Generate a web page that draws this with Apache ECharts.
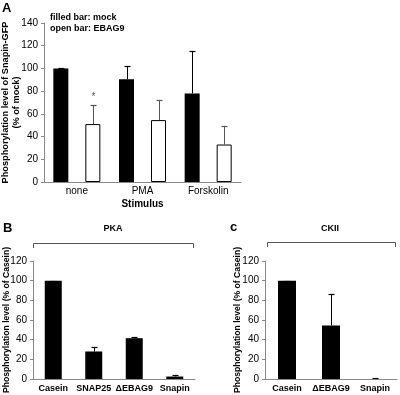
<!DOCTYPE html>
<html>
<head>
<meta charset="utf-8">
<script src="https://cdn.jsdelivr.net/npm/echarts@6/dist/echarts.min.js"></script>
<style>
  * { margin: 0; padding: 0; }
  #chart { width: 400px; height: 395px; background: #fff; }
</style>
</head>
<body>
<div id="chart"></div>
<script>
// panel A: Snapin-GFP phosphorylation per stimulus
const stimuli = ["none", "PMA", "Forskolin"];
const mockValues = [100, 90.5, 78];
const mockErrTop = [100, 102.5, 115.5];
const ebag9Values = [51, 54.5, 33];
const ebag9ErrTop = [67.5, 72, 49.5];
const ebag9Marks = ["*", "", ""];
const ticksA = [0, 20, 40, 60, 80, 100, 120, 140];

// panel B: PKA
const pkaSubstrates = ["Casein", "SNAP25", "\u0394EBAG9", "Snapin"];
const pkaValues = [100, 28, 41.5, 2.5];
const pkaErrTop = [100, 32.5, 43, 3.8];

// panel C: CKII
const ckiiSubstrates = ["Casein", "\u0394EBAG9", "Snapin"];
const ckiiValues = [100, 54.5, 0];
const ckiiErrTop = [100, 86, 0.6];
const ticksBC = [0, 20, 40, 60, 80, 100, 120];

const FONT = "Liberation Sans";
const myChart = echarts.init(document.getElementById("chart"), null, { renderer: "canvas" });

const barW = 15;
const barGapPx = 17;
const half = (barW + barGapPx) / 2;

function errorBars(offset, color, marks) {
  return function (params, api) {
    const base = api.coord([api.value(0), api.value(1)]);
    const top = api.coord([api.value(0), api.value(2)]);
    const cx = Math.round(base[0] + offset) + 0.5;
    const ty = Math.round(top[1]) + 0.5;
    const children = [];
    if (api.value(2) > api.value(1)) {
      children.push({ type: "line", shape: { x1: cx, y1: base[1], x2: cx, y2: ty }, style: { stroke: color, lineWidth: 1 } });
    }
    children.push({ type: "line", shape: { x1: cx - 3, y1: ty, x2: cx + 3, y2: ty }, style: { stroke: color, lineWidth: 1.2 } });
    const m = marks ? marks[params.dataIndex] : "";
    if (m) {
      children.push({ type: "text", x: cx, y: ty - 8, style: { text: m, fill: "#555", font: "10px " + FONT, align: "center", verticalAlign: "middle" } });
    }
    return { type: "group", children: children };
  };
}

function errData(vals, tops) {
  return vals.map((v, i) => [i, v, tops[i]]);
}

const yAxisBase = {
  type: "value",
  axisLine: { show: true, lineStyle: { color: "#888" } },
  axisTick: { show: true, length: 3, lineStyle: { color: "#888" } },
  splitLine: { show: false },
  axisLabel: { color: "#000", fontSize: 10, margin: 6, fontFamily: FONT },
  nameLocation: "middle",
  nameMoveOverlap: false,
  nameTextStyle: { color: "#000", fontWeight: "bold", fontSize: 9.2, fontFamily: FONT, lineHeight: 11 },
};
const xAxisBase = {
  type: "category",
  axisLine: { lineStyle: { color: "#888" } },
  axisTick: { show: false },
};

const option = {
  animation: false,
  textStyle: { fontFamily: FONT },
  grid: [
    { left: 44, right: 159, top: 23, bottom: 213, containLabel: false, outerBoundsMode: "none" },
    { left: 33, right: 205, top: 261, bottom: 16, containLabel: false, outerBoundsMode: "none" },
    { left: 265, right: 3, top: 261, bottom: 16, containLabel: false, outerBoundsMode: "none" },
  ],
  xAxis: [
    Object.assign({}, xAxisBase, {
      gridIndex: 0, data: stimuli,
      axisLabel: { color: "#000", fontSize: 10, margin: 4 },
      name: "Stimulus", nameLocation: "middle", nameGap: 17, nameMoveOverlap: false,
      nameTextStyle: { color: "#000", fontWeight: "bold", fontSize: 10 },
    }),
    Object.assign({}, xAxisBase, {
      gridIndex: 1, data: pkaSubstrates,
      axisLabel: { color: "#000", fontSize: 9, fontWeight: "bold", margin: 5, interval: 0 },
    }),
    Object.assign({}, xAxisBase, {
      gridIndex: 2, data: ckiiSubstrates,
      axisLabel: { color: "#000", fontSize: 9, fontWeight: "bold", margin: 5, interval: 0 },
    }),
  ],
  yAxis: [
    Object.assign({}, yAxisBase, {
      gridIndex: 0, min: ticksA[0], max: ticksA[ticksA.length - 1], interval: 20,
      name: "Phosphorylation level of Snapin-GFP\n(% of mock)", nameGap: 22,
    }),
    Object.assign({}, yAxisBase, {
      gridIndex: 1, min: ticksBC[0], max: ticksBC[ticksBC.length - 1], interval: 20,
      name: "Phosphorylation level (% of Casein)", nameGap: 22,
      nameTextStyle: { color: "#000", fontWeight: "bold", fontSize: 8.6, fontFamily: FONT },
    }),
    Object.assign({}, yAxisBase, {
      gridIndex: 2, min: ticksBC[0], max: ticksBC[ticksBC.length - 1], interval: 20,
      name: "Phosphorylation level (% of Casein)", nameGap: 23,
      nameTextStyle: { color: "#000", fontWeight: "bold", fontSize: 8.6, fontFamily: FONT },
    }),
  ],
  series: [
    {
      name: "mock", type: "bar", xAxisIndex: 0, yAxisIndex: 0,
      barWidth: barW, barGap: (barGapPx / barW * 100) + "%",
      itemStyle: { color: "#000" }, data: mockValues,
    },
    {
      name: "EBAG9", type: "bar", xAxisIndex: 0, yAxisIndex: 0,
      barWidth: barW, barGap: (barGapPx / barW * 100) + "%",
      itemStyle: { color: "#fff", borderColor: "#000", borderWidth: 1 }, data: ebag9Values,
    },
    {
      type: "custom", xAxisIndex: 0, yAxisIndex: 0, z: 5,
      renderItem: errorBars(-half, "#000", null), data: errData(mockValues, mockErrTop),
    },
    {
      type: "custom", xAxisIndex: 0, yAxisIndex: 0, z: 5,
      renderItem: errorBars(half, "#555", ebag9Marks), data: errData(ebag9Values, ebag9ErrTop),
    },
    {
      name: "PKA", type: "bar", xAxisIndex: 1, yAxisIndex: 1, barWidth: 17,
      itemStyle: { color: "#000" }, data: pkaValues,
    },
    {
      type: "custom", xAxisIndex: 1, yAxisIndex: 1, z: 5,
      renderItem: errorBars(0, "#000", null), data: errData(pkaValues, pkaErrTop),
    },
    {
      name: "CKII", type: "bar", xAxisIndex: 2, yAxisIndex: 2, barWidth: 18,
      itemStyle: { color: "#000" }, data: ckiiValues,
    },
    {
      type: "custom", xAxisIndex: 2, yAxisIndex: 2, z: 5,
      renderItem: errorBars(0, "#000", null), data: errData(ckiiValues, ckiiErrTop),
    },
  ],
  graphic: [
    { type: "text", left: 2, top: 2, style: { text: "A", font: "bold 13px " + FONT, fill: "#000" } },
    { type: "text", left: 50, top: 12, style: { text: "filled bar: mock\nopen bar: EBAG9", font: "bold 9px " + FONT, fill: "#000", lineHeight: 11 } },
    { type: "text", left: 3, top: 222, style: { text: "B", font: "bold 13px " + FONT, fill: "#000" } },
    { type: "text", left: 230, top: 221, style: { text: "c", font: "bold 13px " + FONT, fill: "#000" } },
    { type: "polyline", shape: { points: [[33.5, 248], [33.5, 243.5], [193.5, 243.5], [193.5, 248]] }, style: { stroke: "#555", lineWidth: 1, fill: null } },
    { type: "text", x: 113, y: 229, style: { text: "PKA", font: "bold 9px " + FONT, fill: "#000", align: "center", verticalAlign: "middle" } },
    { type: "polyline", shape: { points: [[267.5, 247], [267.5, 242.5], [395.5, 242.5], [395.5, 247]] }, style: { stroke: "#555", lineWidth: 1, fill: null } },
    { type: "text", x: 330, y: 229, style: { text: "CKII", font: "bold 9px " + FONT, fill: "#000", align: "center", verticalAlign: "middle" } },
  ],
};

myChart.setOption(option);
window.addEventListener("resize", myChart.resize);
</script>
</body>
</html>
